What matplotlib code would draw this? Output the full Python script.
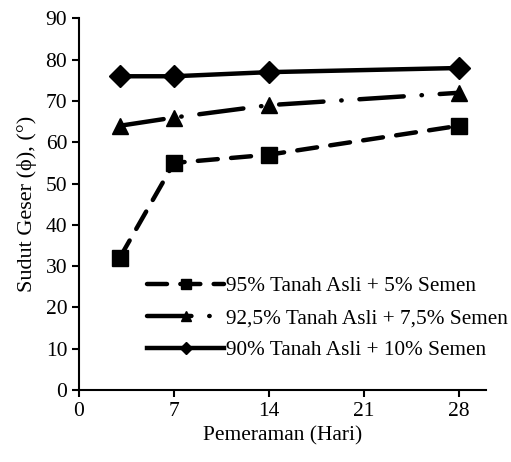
import matplotlib
matplotlib.use("Agg")
import matplotlib.pyplot as plt

days = [3, 7, 14, 28]
s1 = [32, 55, 57, 64]
s2 = [64, 66, 69, 72]
s3 = [76, 76, 77, 78]
labels = ["95% Tanah Asli + 5% Semen", "92,5% Tanah Asli + 7,5% Semen", "90% Tanah Asli + 10% Semen"]
xticks = [0, 7, 14, 21, 28]
yticks = list(range(0, 91, 10))

plt.rcParams['font.family'] = ['Liberation Serif', 'DejaVu Serif']
fig = plt.figure(figsize=(5.11, 4.62), dpi=100)
ax = fig.add_axes([0.1546, 0.156, 0.7964, 0.804])

fs = 15.5
ax.plot(days, s1, color='black', lw=3.2, linestyle=(0, (4.5, 3)), marker='s', ms=12, label=labels[0], dash_capstyle='round')
ax.plot(days, s2, color='black', lw=3.2, linestyle=(0, (10, 4, 0.1, 4)), marker='^', ms=12, label=labels[1], dash_capstyle='round')
ax.plot(days, s3, color='black', lw=3.2, linestyle='-', marker='D', ms=11, label=labels[2])

ax.set_xlim(0, 30)
ax.set_ylim(0, 90)
ax.set_xticks(xticks)
ax.set_yticks(yticks)
for s in ['top', 'right']:
    ax.spines[s].set_visible(False)
for s in ['left', 'bottom']:
    ax.spines[s].set_linewidth(1.5)
ax.tick_params(direction='out', length=5, width=1.5, labelsize=fs)
ax.set_xlabel("Pemeraman (Hari)", fontsize=fs)
ax.set_ylabel("Sudut Geser (\u03d5), (\u00b0)", fontsize=16, labelpad=6)

leg = ax.legend(loc='upper left', bbox_to_anchor=(0.121, 0.358), frameon=False, fontsize=15.3,
                handlelength=3.6, handletextpad=0.1, labelspacing=0.58, markerscale=0.6)

fig.savefig("out.png", dpi=100)
